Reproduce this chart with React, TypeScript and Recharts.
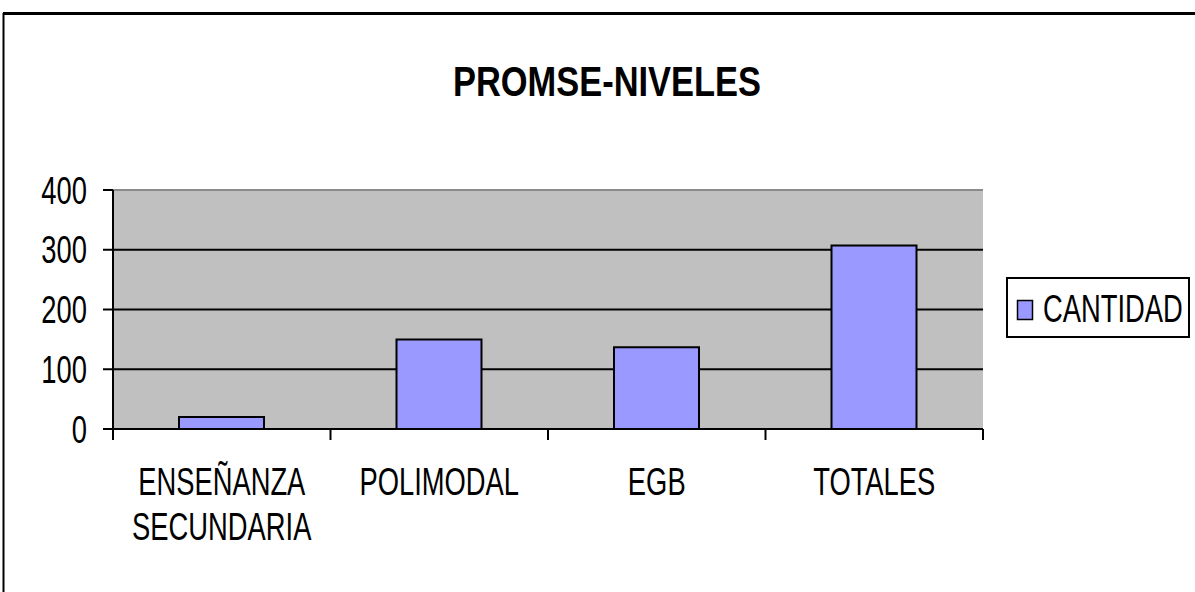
import { BarChart, Bar, XAxis, YAxis, CartesianGrid } from "recharts";

const categories = ["ENSEÑANZA SECUNDARIA", "POLIMODAL", "EGB", "TOTALES"];
const cantidad = [20, 150, 137, 307];
const yTicks = [0, 100, 200, 300, 400];
const gridValues = [100, 200, 300];

const data = categories.map((name, i) => ({ name, CANTIDAD: cantidad[i] }));

const FONT = '"Liberation Sans", Arial, sans-serif';
const SQUEEZE = 0.72;

function CategoryTick(props: any) {
  const { x, y, payload } = props;
  const half = payload.offset || 0;
  const lines = String(payload.value).split(" ");
  return (
    <g>
      <line x1={x - half} y1={y} x2={x - half} y2={y + 11} stroke="#000" strokeWidth={2} />
      {payload.index === categories.length - 1 && (
        <line x1={x + half} y1={y} x2={x + half} y2={y + 11} stroke="#000" strokeWidth={2} />
      )}
      {lines.map((line: string, i: number) => (
        <text
          key={i}
          transform={`translate(${x},${y + 66 + i * 45}) scale(${SQUEEZE},1)`}
          textAnchor="middle"
          fontSize={38}
          fontFamily={FONT}
          fill="#000"
        >
          {line}
        </text>
      ))}
    </g>
  );
}

function ValueTick(props: any) {
  const { x, y, payload } = props;
  return (
    <text
      transform={`translate(${x},${y}) scale(${SQUEEZE},1)`}
      textAnchor="end"
      dy="0.355em"
      fontSize={38}
      fontFamily={FONT}
      fill="#000"
    >
      {payload.value}
    </text>
  );
}

export default function App() {
  return (
    <div style={{ position: "absolute", left: 0, top: 0, width: 1195, height: 592, background: "#fff" }}>
      <BarChart
        width={1195}
        height={592}
        data={data}
        margin={{ top: 190, right: 212, bottom: 0, left: 0 }}
      >
        <CartesianGrid
          fill="#c0c0c0"
          fillOpacity={1}
          stroke="#8a8a8a"
          strokeWidth={2}
          vertical={false}
          horizontalValues={[400]}
        />
        <CartesianGrid
          stroke="#000"
          strokeWidth={2}
          vertical={false}
          horizontalValues={gridValues}
        />
        <XAxis
          dataKey="name"
          height={163}
          interval={0}
          tickSize={0}
          tickMargin={0}
          axisLine={{ stroke: "#000", strokeWidth: 2 }}
          tickLine={false}
          tick={<CategoryTick />}
        />
        <YAxis
          width={113}
          domain={[0, 400]}
          ticks={yTicks}
          interval={0}
          tickSize={10}
          tickMargin={16}
          axisLine={{ stroke: "#000", strokeWidth: 2 }}
          tickLine={{ stroke: "#000", strokeWidth: 2 }}
          tick={<ValueTick />}
        />
        <YAxis
          yAxisId="frame"
          orientation="right"
          width={0}
          domain={[0, 400]}
          tick={false}
          tickLine={false}
          axisLine={{ stroke: "#8a8a8a", strokeWidth: 2 }}
        />
        <Bar
          dataKey="CANTIDAD"
          fill="#9999ff"
          stroke="#000"
          strokeWidth={2}
          barSize={85}
          isAnimationActive={false}
        />
      </BarChart>
      <svg
        width={1195}
        height={592}
        style={{ position: "absolute", left: 0, top: 0, pointerEvents: "none" }}
      >
        <line x1={3} y1={13.5} x2={1195} y2={13.5} stroke="#000" strokeWidth={3} />
        <line x1={3.5} y1={13} x2={3.5} y2={592} stroke="#000" strokeWidth={2} />
        <text
          transform="translate(607,96) scale(0.82,1)"
          textAnchor="middle"
          fontSize={42}
          fontWeight="bold"
          fontFamily={FONT}
          fill="#000"
        >
          PROMSE-NIVELES
        </text>
        <g>
          <rect x={1007} y={278} width={182} height={59} fill="#fff" stroke="#000" strokeWidth={2} />
          <rect x={1017.5} y={300.5} width={15} height={19} fill="#9999ff" stroke="#000" strokeWidth={1.5} />
          <text
            transform={`translate(1043,322) scale(${SQUEEZE},1)`}
            fontSize={38}
            fontFamily={FONT}
            fill="#000"
          >
            CANTIDAD
          </text>
        </g>
      </svg>
    </div>
  );
}
